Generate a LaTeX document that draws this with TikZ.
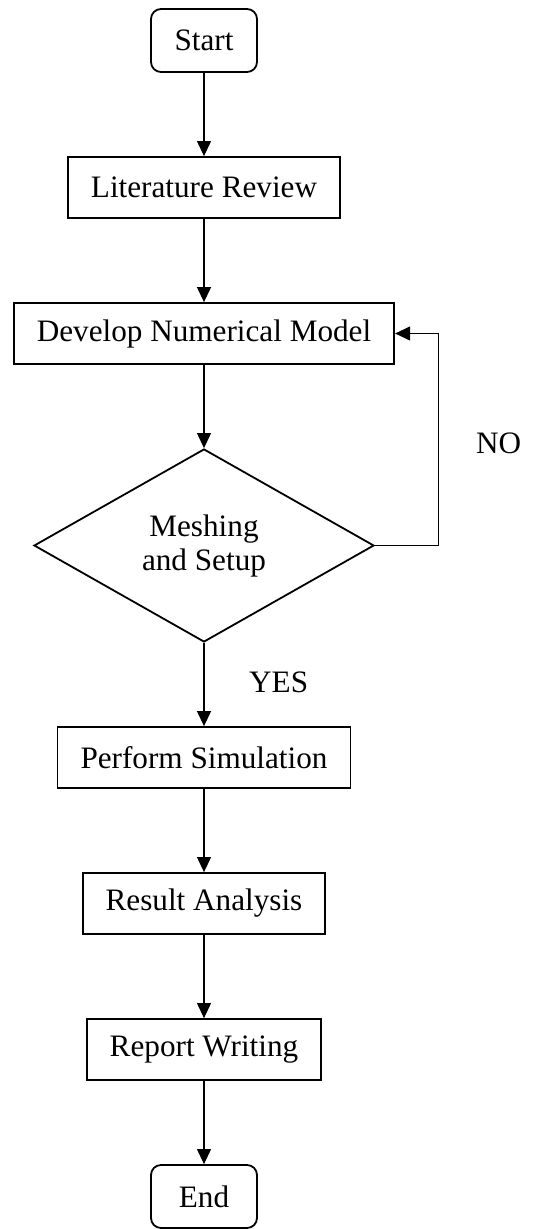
\documentclass[tikz,border=0pt]{standalone}
\usepackage{fontspec}
\setmainfont{Liberation Serif}
\usetikzlibrary{positioning, shapes.geometric, arrows.meta}

\begin{document}
\begin{tikzpicture}[>={Triangle[length=7.5pt,width=7pt]},node distance=41.6pt,
  font=\fontsize{15.6}{17}\selectfont,
  terminal/.style={draw, rounded corners=5pt, line width=0.9pt, minimum width=53pt, minimum height=31.5pt, inner sep=0pt},
  process/.style={draw, line width=0.9pt, minimum height=30.5pt, inner xsep=11.5pt},
  decision/.style={draw, diamond, line width=0.9pt, minimum width=170pt, minimum height=96.5pt, inner sep=0pt, align=center},
  flow/.style={->, line width=0.55pt}]
  \useasboundingbox (0,0) rectangle (266.5pt,-614.5pt);

  \node[terminal] (start) at (102pt,-20.25pt) {Start};
  \node[process, below=of start] (lit) {Literature Review};
  \node[process, below=of lit] (dev) {Develop Numerical Model};
  \node[decision, below=of dev] (mesh) {Meshing\\and Setup};
  \node[process, below=of mesh] (sim) {Perform Simulation};
  \node[process, below=of sim] (res) {Result Analysis};
  \node[process, below=of res] (rep) {Report Writing};
  \node[terminal, below=of rep] (end) {End};

  \draw[flow] (start) -- (lit);
  \draw[flow] (lit) -- (dev);
  \draw[flow] (dev) -- (mesh);
  \draw[flow] (mesh) -- node[pos=0.47, right=19pt] {YES} (sim);
  \draw[flow] (sim) -- (res);
  \draw[flow] (res) -- (rep);
  \draw[flow] (rep) -- (end);
  % back to the model when the mesh is not ready
  \draw[flow] (mesh.east) -- ++(32pt,0) |- node[pos=0.24, right=15pt] {NO} (dev.east);
\end{tikzpicture}
\end{document}
